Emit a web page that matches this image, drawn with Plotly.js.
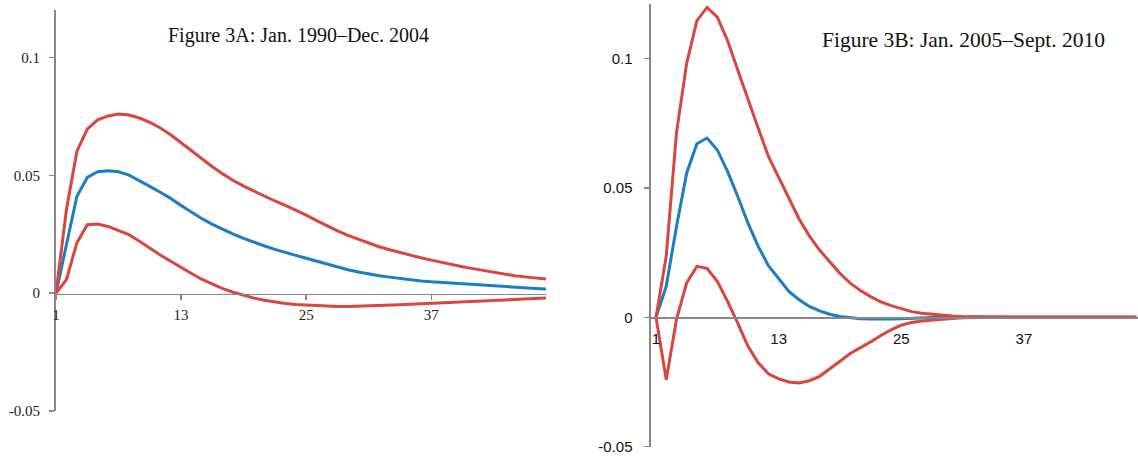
<!DOCTYPE html>
<html>
<head>
<meta charset="utf-8">
<script src="https://cdn.plot.ly/plotly-3.0.1.min.js"></script>
<style>html,body{margin:0;padding:0;background:#fff;}#chart{width:1138px;height:458px;}</style>
</head>
<body>
<div id="chart"></div>
<script>
// Horizon (months) after the shock
const periods = [1,2,3,4,5,6,7,8,9,10,11,12,13,14,15,16,17,18,19,20,21,22,23,24,
  25,26,27,28,29,30,31,32,33,34,35,36,37,38,39,40,41,42,43,44,45,46,47,48];
const xTicks = [1, 13, 25, 37];
const yTickVals = [-0.05, 0, 0.05, 0.1];
const yTickText = ['-0.05', '0', '0.05', '0.1'];

// Figure 3A: Jan. 1990–Dec. 2004
const upperA = [0,0.0354,0.0601,0.0696,0.0735,0.0752,0.0760,0.0756,0.0743,0.0725,0.0701,0.0672,
  0.0638,0.0603,0.0568,0.0536,0.0506,0.0478,0.0454,0.0432,0.0411,0.0391,0.0372,0.0352,
  0.0331,0.0308,0.0285,0.0264,0.0245,0.0228,0.0212,0.0197,0.0184,0.0172,0.0161,0.0150,
  0.0140,0.0130,0.0121,0.0112,0.0104,0.0096,0.0088,0.0081,0.0074,0.0069,0.0064,0.0060];
const meanA = [0,0.0210,0.0410,0.0491,0.0515,0.0519,0.0515,0.0501,0.0478,0.0453,0.0428,0.0402,
  0.0372,0.0343,0.0316,0.0292,0.0270,0.0250,0.0232,0.0215,0.0200,0.0186,0.0172,0.0160,
  0.0148,0.0135,0.0122,0.0109,0.0099,0.0090,0.0081,0.0074,0.0068,0.0062,0.0057,0.0052,
  0.0048,0.0045,0.0041,0.0038,0.0036,0.0032,0.0030,0.0027,0.0024,0.0022,0.0020,0.0018];
const lowerA = [0,0.0057,0.0213,0.0290,0.0293,0.0283,0.0265,0.0248,0.0220,0.0190,0.0162,0.0135,
  0.0108,0.0083,0.0058,0.0037,0.0019,0.0004,-0.0009,-0.0021,-0.0030,-0.0038,-0.0044,-0.0048,
  -0.0051,-0.0054,-0.0057,-0.0057,-0.0057,-0.0056,-0.0055,-0.0053,-0.0051,-0.0049,-0.0047,-0.0045,
  -0.0043,-0.0041,-0.0039,-0.0037,-0.0035,-0.0033,-0.0031,-0.0030,-0.0028,-0.0026,-0.0024,-0.0021];

// Figure 3B: Jan. 2005–Sept. 2010
const upperB = [0,0.0236,0.0712,0.0982,0.1147,0.1198,0.1160,0.1070,0.0956,0.0841,0.0731,0.0622,
  0.0540,0.0458,0.0380,0.0315,0.0260,0.0215,0.0170,0.0132,0.0104,0.0080,0.0060,0.0045,
  0.0034,0.0022,0.0016,0.0012,0.0008,0.0005,0.0003,0.0002,0.0001,0.0001,0,0,
  0,0,0,0,0,0,0,0,0,0,0,0];
const meanB = [0,0.0120,0.0350,0.0557,0.0671,0.0693,0.0647,0.0564,0.0467,0.0364,0.0274,0.0200,
  0.0150,0.0100,0.0068,0.0042,0.0025,0.0012,0.0003,-0.0002,-0.0005,-0.0006,-0.0007,-0.0006,
  -0.0005,-0.0003,-0.0002,-0.0001,0,0,0,0,0,0,0,0,
  0,0,0,0,0,0,0,0,0,0,0,0];
const lowerB = [0,-0.0241,-0.0009,0.0133,0.0197,0.0189,0.0139,0.0062,-0.0022,-0.0112,-0.0176,-0.0218,
  -0.0238,-0.0250,-0.0254,-0.0245,-0.0228,-0.0200,-0.0170,-0.0140,-0.0118,-0.0095,-0.0070,-0.0048,
  -0.0030,-0.0020,-0.0014,-0.0010,-0.0006,-0.0004,-0.0002,-0.0001,0,0,0,0,
  0,0,0,0,0,0,0,0,0,0,0,0];

const RED = '#D9463F';
const BLUE = '#1B7DC3';
const AXIS = '#878787';

function line(y, color, xa, ya) {
  return {x: periods, y: y, type: 'scatter', mode: 'lines', xaxis: xa, yaxis: ya,
    line: {color: color, width: 3}, hoverinfo: 'skip'};
}

const data = [
  line(meanA, BLUE, 'x', 'y'),
  line(upperA, RED, 'x', 'y'),
  line(lowerA, RED, 'x', 'y'),
  line(meanB, BLUE, 'x2', 'y2'),
  line(upperB, RED, 'x2', 'y2'),
  line(lowerB, RED, 'x2', 'y2')
];

const serif = 'Liberation Serif, serif';
const sans = 'Liberation Sans, Arial, sans-serif';

const layout = {
  width: 1138, height: 458,
  margin: {l: 0, r: 0, t: 0, b: 0, pad: 0},
  paper_bgcolor: '#fff', plot_bgcolor: 'rgba(0,0,0,0)',
  showlegend: false,
  xaxis: {
    domain: [0.04921, 0.47979], range: [1, 48], anchor: 'free', position: 0.35917,
    showline: true, linecolor: AXIS, linewidth: 1.5, showgrid: false, zeroline: false,
    tickmode: 'array', tickvals: xTicks, ticks: 'outside', ticklen: 5, tickcolor: AXIS, tickwidth: 1.5,
    ticklabelstandoff: 2,
    tickfont: {family: serif, size: 15, color: '#222'}
  },
  yaxis: {
    domain: [0.10262, 0.97751], range: [-0.05, 0.12], anchor: 'x',
    showline: true, linecolor: AXIS, linewidth: 2, showgrid: false, zeroline: false,
    tickmode: 'array', tickvals: yTickVals, ticktext: yTickText,
    ticks: 'outside', ticklen: 5, tickcolor: AXIS, tickwidth: 1.5, ticklabelstandoff: 6,
    tickfont: {family: serif, size: 15, color: '#222'}
  },
  xaxis2: {
    domain: [0.57206, 1], range: [0.511, 48.16], anchor: 'free', position: 0.30633,
    showline: true, linecolor: AXIS, linewidth: 2, showgrid: false, zeroline: false,
    tickmode: 'array', tickvals: xTicks, ticks: '', ticklabelstandoff: 7,
    tickfont: {family: sans, size: 15, color: '#111'}
  },
  yaxis2: {
    domain: [0.02467, 0.99061], range: [-0.05, 0.121], anchor: 'x2',
    showline: true, linecolor: AXIS, linewidth: 2.5, showgrid: false, zeroline: false,
    tickmode: 'array', tickvals: yTickVals, ticktext: yTickText,
    ticks: 'outside', ticklen: 5, tickcolor: AXIS, tickwidth: 1.5, ticklabelstandoff: 8,
    tickfont: {family: sans, size: 15, color: '#111'}
  },
  annotations: [
    {text: 'Figure 3A: Jan. 1990–Dec. 2004', xref: 'paper', yref: 'paper',
     x: 0.2623, y: 0.9214, xanchor: 'center', yanchor: 'middle', showarrow: false,
     font: {family: serif, size: 20, color: '#111'}},
    {text: 'Figure 3B: Jan. 2005–Sept. 2010', xref: 'paper', yref: 'paper',
     x: 0.8471, y: 0.9127, xanchor: 'center', yanchor: 'middle', showarrow: false,
     font: {family: serif, size: 21.5, color: '#111'}}
  ]
};

Plotly.newPlot('chart', data, layout, {staticPlot: true, displayModeBar: false});
</script>
</body>
</html>
